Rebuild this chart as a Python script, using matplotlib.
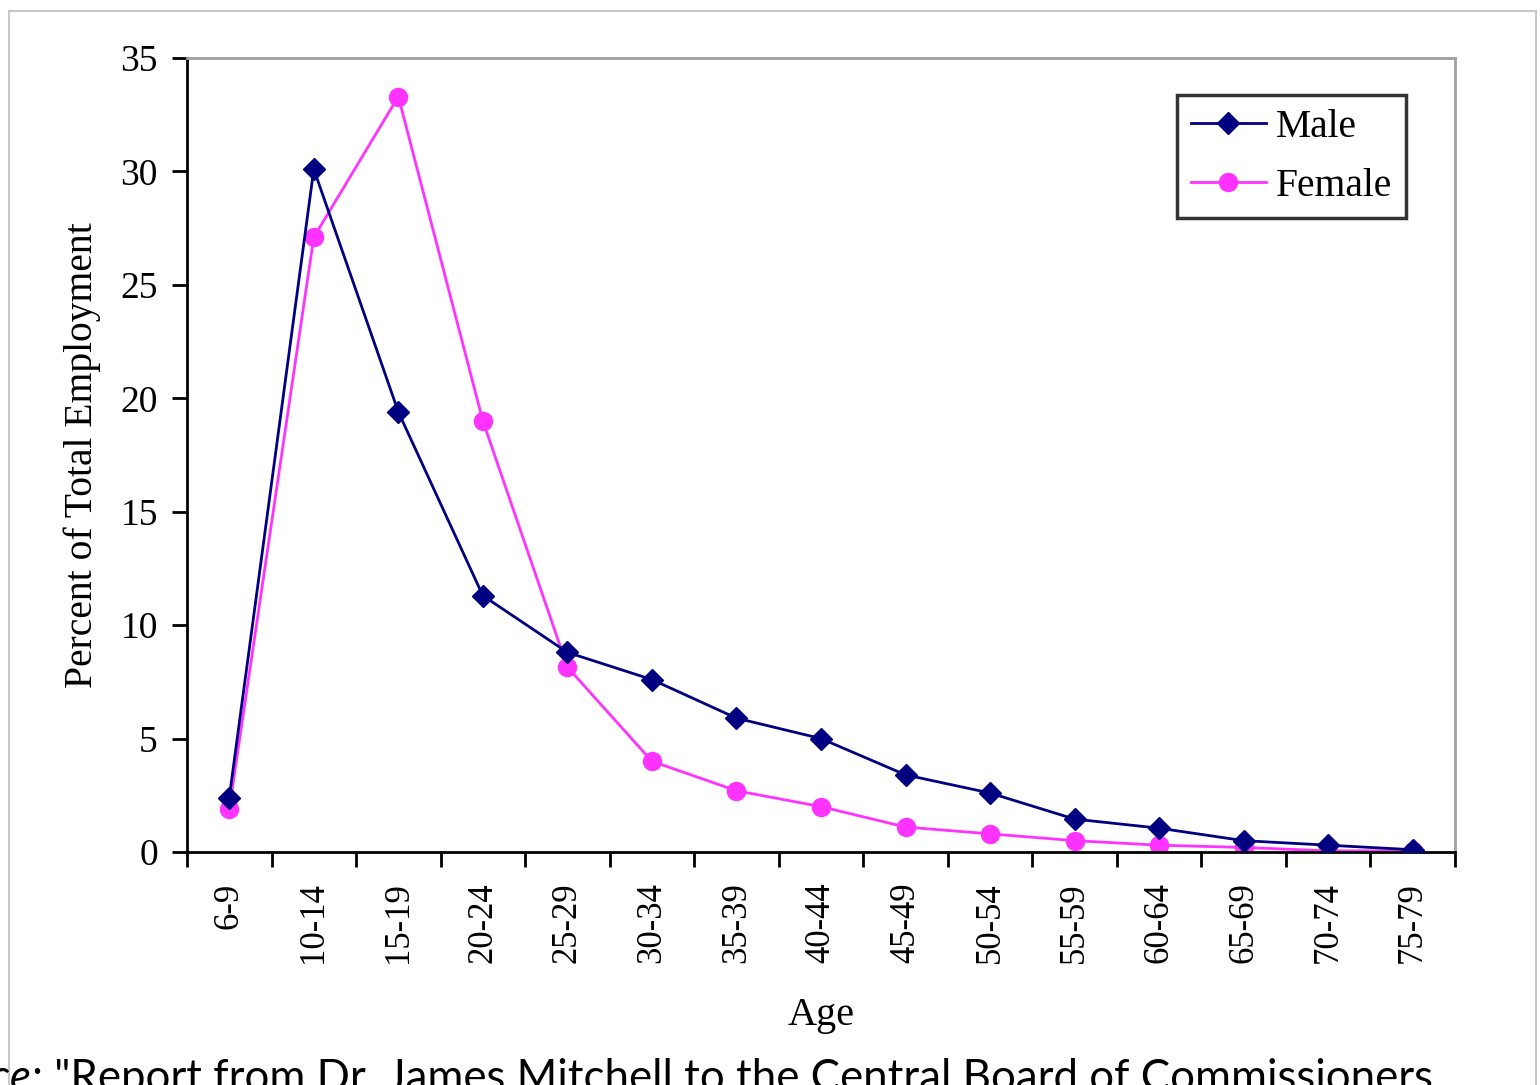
import numpy as np
import matplotlib.pyplot as plt
from matplotlib.patches import Rectangle

ages = ["6-9", "10-14", "15-19", "20-24", "25-29", "30-34", "35-39", "40-44",
        "45-49", "50-54", "55-59", "60-64", "65-69", "70-74", "75-79"]
male = [2.4, 30.1, 19.4, 11.3, 8.8, 7.6, 5.9, 5.0, 3.4, 2.6, 1.45, 1.05, 0.5, 0.3, 0.1]
female = [1.9, 27.1, 33.3, 19.0, 8.15, 4.0, 2.7, 2.0, 1.1, 0.8, 0.5, 0.3, 0.2, 0.05, 0.05]

serif = ["Liberation Serif", "DejaVu Serif"]

fig = plt.figure(figsize=(15.4, 10.85), dpi=100)
ax = fig.add_axes([187 / 1540, 1 - 852 / 1085, (1455 - 187) / 1540, (852 - 58) / 1085])

# light frame round the chart
fig.patches.append(Rectangle((9 / 1540, 1 - 1090 / 1085), 1527 / 1540, 1079 / 1085,
                             transform=fig.transFigure, fill=False,
                             edgecolor="#c8c8c8", linewidth=1.5))

x = np.arange(len(ages))
ax.plot(x, male, color="#000080", linewidth=2, marker="D", markersize=11,
        markerfacecolor="#000080", markeredgecolor="#000080", label="Male", zorder=3)
ax.plot(x, female, color="#ff33ff", linewidth=2, marker="o", markersize=13,
        markerfacecolor="#ff33ff", markeredgecolor="#ff33ff", label="Female", zorder=2)

ax.set_xlim(-0.5, len(ages) - 0.5)
ax.set_ylim(0, 35)
ax.set_yticks(range(0, 36, 5))
ax.set_xticks(np.arange(-0.5, len(ages), 1.0))
ax.set_xticklabels([])
ax.set_xticks(x, minor=True)
ax.set_xticklabels(ages, minor=True, rotation=90, fontsize=25, family=serif,
                   va="top")
ax.tick_params(axis="x", which="minor", length=0, pad=22)
ax.tick_params(axis="x", which="major", length=11, width=2, direction="out")
ax.tick_params(axis="y", length=11, width=2, direction="out", pad=10)
for lab in ax.get_yticklabels():
    lab.set_fontsize(27)
    lab.set_family(serif)

for side in ["left", "bottom"]:
    ax.spines[side].set_color("black")
    ax.spines[side].set_linewidth(2)
for side in ["top", "right"]:
    ax.spines[side].set_color("#a0a0a0")
    ax.spines[side].set_linewidth(2)

ax.set_xlabel("Age", fontsize=29, family=serif, labelpad=24)
ax.set_ylabel("Percent of Total Employment", fontsize=28.5, family=serif, labelpad=14)

leg = ax.legend(loc="upper right", bbox_to_anchor=(1219 / 1268, 1 - 37 / 794),
                prop={"family": serif, "size": 28.5}, frameon=True, fancybox=False,
                edgecolor="black", handlelength=1.9, handletextpad=0.25,
                borderpad=0.35, labelspacing=0.55, borderaxespad=0)
leg.get_frame().set_linewidth(2.5)

fig.text(32 / 1540, 1 - 1091 / 1085, "Source", fontsize=31.5, family="Lato",
         style="italic", ha="right", va="baseline")
fig.text(32 / 1540, 1 - 1091 / 1085,
         ': "Report from Dr. James Mitchell to the Central Board of Commissioners',
         fontsize=31.5, family="Lato", ha="left", va="baseline")

fig.savefig("out.png", dpi=100)
